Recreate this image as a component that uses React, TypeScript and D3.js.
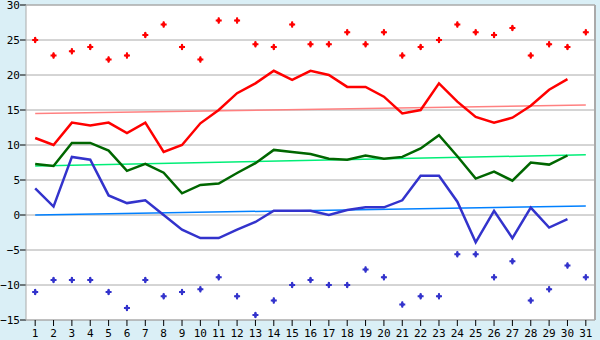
import React from "react";
import * as d3 from "d3";

const days = d3.range(1, 32).map(String);
const maxRecord = [25.0,22.8,23.4,24.0,22.2,22.8,25.7,27.2,24.0,22.2,27.8,27.8,24.4,24.0,27.2,24.4,24.4,26.1,24.4,26.1,22.8,24.0,25.0,27.2,26.1,25.7,26.7,22.8,24.4,24.0,26.1];
const avgMax = [11.0,10.0,13.2,12.8,13.2,11.7,13.2,9.0,10.0,13.1,15.0,17.4,18.8,20.6,19.3,20.6,20.0,18.3,18.3,16.9,14.5,15.0,18.8,16.2,14.0,13.2,13.9,15.6,17.9,19.4,null];
const avgMean = [7.3,7.0,10.3,10.3,9.2,6.3,7.3,6.05,3.1,4.3,4.5,6.0,7.4,9.3,9.0,8.7,8.05,7.9,8.5,8.05,8.3,9.5,11.4,8.4,5.2,6.2,4.9,7.5,7.2,8.5,null];
const avgMin = [3.8,1.2,8.3,7.9,2.8,1.7,2.1,0.0,-2.1,-3.3,-3.3,-2.1,-1.0,0.6,0.6,0.6,0.0,0.7,1.1,1.1,2.1,5.6,5.6,1.9,-3.9,0.6,-3.3,1.05,-1.8,-0.6,null];
const minRecord = [-11.0,-9.3,-9.3,-9.3,-11.0,-13.3,-9.3,-11.6,-11.0,-10.6,-8.9,-11.6,-14.3,-12.2,-10.0,-9.3,-10.0,-10.0,-7.8,-8.9,-12.8,-11.6,-11.6,-5.6,-5.6,-8.9,-6.6,-12.2,-10.6,-7.2,-8.9];
const trendMax = [14.5, 15.7];
const trendMean = [7.0, 8.6];
const trendMin = [0.0, 1.3];
const yTicks = [-15, -10, -5, 0, 5, 10, 15, 20, 25, 30];

export default function App() {
  const W = 600, H = 340;
  const left = 26, right = 595, top = 5, bottom = 320;
  const x = d3.scaleBand<string>().domain(days).range([left, right]);
  const cx = (d: string) => (x(d) as number) + x.bandwidth() / 2;
  const y = d3.scaleLinear().domain([-15, 30]).range([bottom, top]);
  const font = "'DejaVu Sans Mono', monospace";

  const line = d3.line<number | null>()
    .defined((v) => v !== null)
    .x((_, i) => cx(days[i]))
    .y((v) => y(v as number));

  const cross = d3.symbol().type(d3.symbolCross).size(20)() || "";
  const diamond = d3.symbol().type(d3.symbolDiamond).size(14)() || "";

  const trend = (t: number[], color: string) => (
    <line x1={cx(days[0])} x2={cx(days[days.length - 1])} y1={y(t[0])} y2={y(t[1])} stroke={color} strokeWidth={1.5} />
  );

  const mark = (v: number, i: number, color: string, k: string) => (
    <g key={k} transform={`translate(${cx(days[i])},${y(v)})`} fill={color}>
      <path d={cross} />
      <path d={diamond} />
    </g>
  );

  return (
    <svg width={W} height={H} style={{ position: "absolute", left: 0, top: 0, display: "block" }}>
      <rect x={0} y={0} width={W} height={H} fill="#daeff6" />
      <rect x={left} y={top} width={right - left} height={bottom - top} fill="#ffffff" />
      {yTicks.map((t) => (
        <g key={t}>
          <line x1={left} x2={right} y1={y(t)} y2={y(t)} stroke="#aaaaaa" strokeWidth={1} />
          <line x1={left - 6} x2={left} y1={y(t)} y2={y(t)} stroke="#000" strokeWidth={1} />
          <text x={left - 6} y={y(t) + 4} textAnchor="end" fontFamily={font} fontSize={11} fill="#000">
            {t < 0 ? "\u2212" + Math.abs(t) : t}
          </text>
        </g>
      ))}
      <line x1={left} x2={left} y1={top} y2={bottom} stroke="#aaaaaa" strokeWidth={1} />
      <line x1={right} x2={right} y1={top} y2={bottom} stroke="#aaaaaa" strokeWidth={2} />
      <line x1={left} x2={right} y1={top} y2={top} stroke="#aaaaaa" strokeWidth={1} />
      <line x1={left} x2={right} y1={bottom} y2={bottom} stroke="#aaaaaa" strokeWidth={1} />
      {days.map((d) => (
        <g key={d}>
          <line x1={cx(d)} x2={cx(d)} y1={bottom} y2={bottom + 6} stroke="#000" strokeWidth={1} />
          <text x={cx(d)} y={bottom + 17} textAnchor="middle" fontFamily={font} fontSize={11} fill="#000">{d}</text>
        </g>
      ))}
      {trend(trendMax, "#ff8080")}
      {trend(trendMean, "#00ee77")}
      {trend(trendMin, "#0080ff")}
      <path d={line(avgMin) || ""} fill="none" stroke="#3333cc" strokeWidth={2.5} />
      <path d={line(avgMean) || ""} fill="none" stroke="#006600" strokeWidth={2.5} />
      <path d={line(avgMax) || ""} fill="none" stroke="#ff0000" strokeWidth={2.5} />
      {maxRecord.map((v, i) => mark(v, i, "#ff0000", "mx" + i))}
      {minRecord.map((v, i) => mark(v, i, "#3333cc", "mn" + i))}
    </svg>
  );
}
